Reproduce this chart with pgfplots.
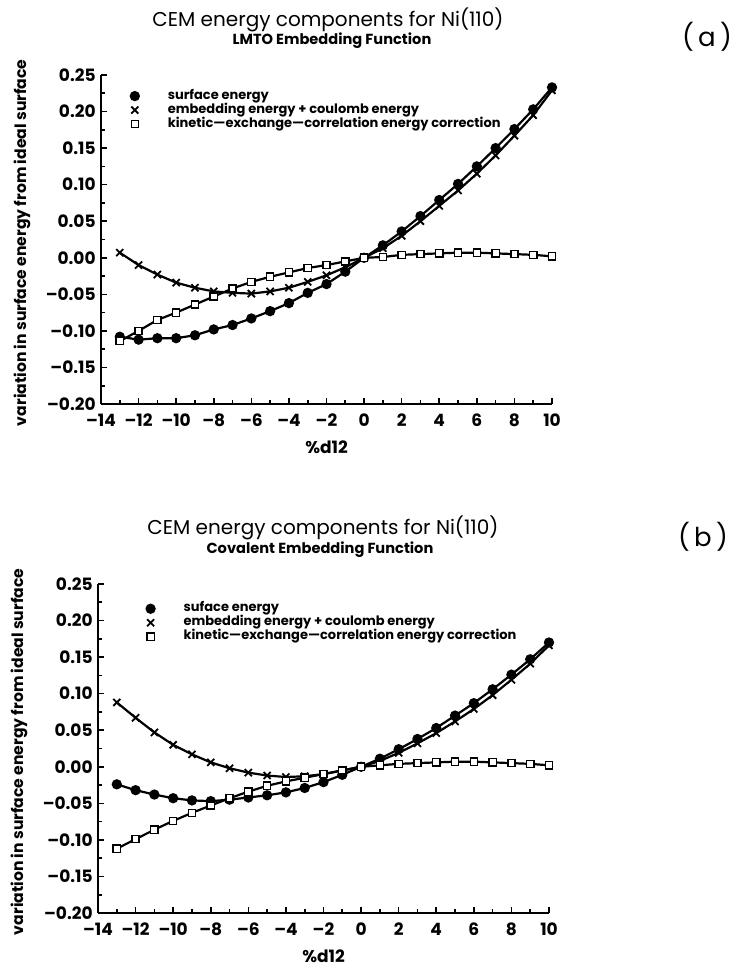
\documentclass[border=0pt]{standalone}
\usepackage{fontspec}
\setmainfont{Poppins}
\usepackage{pgfplots}
\usepackage{pgfplotstable}
\pgfplotsset{compat=1.18}

\pgfplotstableread{
x surf emb kec
-13 -0.108 0.007 -0.114
-12 -0.112 -0.010 -0.100
-11 -0.110 -0.023 -0.085
-10 -0.110 -0.034 -0.075
-9 -0.106 -0.041 -0.064
-8 -0.098 -0.046 -0.053
-7 -0.092 -0.048 -0.042
-6 -0.083 -0.049 -0.033
-5 -0.073 -0.046 -0.026
-4 -0.062 -0.041 -0.020
-3 -0.048 -0.033 -0.014
-2 -0.036 -0.024 -0.010
-1 -0.019 -0.013 -0.005
0 0.000 0.000 0.000
1 0.017 0.013 0.001
2 0.036 0.030 0.004
3 0.057 0.050 0.005
4 0.079 0.071 0.006
5 0.101 0.092 0.007
6 0.125 0.115 0.007
7 0.150 0.140 0.006
8 0.176 0.167 0.005
9 0.203 0.195 0.004
10 0.233 0.229 0.002
}\dataA

\pgfplotstableread{
x surf emb kec
-13 -0.024 0.088 -0.112
-12 -0.032 0.067 -0.099
-11 -0.038 0.047 -0.086
-10 -0.043 0.030 -0.074
-9 -0.046 0.017 -0.063
-8 -0.047 0.006 -0.053
-7 -0.045 -0.002 -0.043
-6 -0.042 -0.008 -0.034
-5 -0.039 -0.012 -0.026
-4 -0.035 -0.014 -0.020
-3 -0.029 -0.013 -0.015
-2 -0.021 -0.010 -0.010
-1 -0.011 -0.005 -0.005
0 0.000 0.000 0.000
1 0.011 0.008 0.002
2 0.024 0.019 0.004
3 0.038 0.032 0.005
4 0.053 0.046 0.006
5 0.070 0.062 0.007
6 0.087 0.079 0.007
7 0.106 0.098 0.006
8 0.126 0.119 0.005
9 0.147 0.141 0.004
10 0.170 0.166 0.002
}\dataB

\pgfplotsset{
  cem/.style={
    scale only axis, width=225.5pt, height=164.5pt,
    xmin=-14, xmax=10, ymin=-0.2, ymax=0.25,
    axis x line*=bottom, axis y line*=left,
    axis line style={line width=1pt, black},
    xtick={-14,-12,...,10},
    xticklabels={–14,–12,–10,–8,–6,–4,–2,0,2,4,6,8,10},
    ytick={-0.2,-0.15,-0.1,-0.05,0,0.05,0.1,0.15,0.2,0.25},
    yticklabels={–0.20,–0.15,–0.10,–0.05,0.00,0.05,0.10,0.15,0.20,0.25},
    minor x tick num=1, minor y tick num=1,
    tick align=inside,
    major tick length=3pt, minor tick length=1.75pt,
    every tick/.style={black, line width=0.8pt},
    ticklabel style={font=\bfseries\fontsize{8.5}{10}\selectfont, inner sep=0pt},
    xticklabel style={anchor=center, yshift=-8pt},
    yticklabel style={anchor=east, xshift=-2.5pt},
    xlabel={\%d12},
    xlabel style={font=\bfseries\fontsize{8.5}{10}\selectfont, at={(axis description cs:0.5,-0.13)}, anchor=center},
    ylabel={variation in surface energy from ideal surface},
    ylabel style={font=\bfseries\fontsize{7.8}{9}\selectfont, at={(axis description cs:-0.175,0.49)}, anchor=center, rotate=0},
    legend image code/.code={\path[draw=none,fill=none] (-3pt,0pt) -- (16.5pt,0pt); \draw[#1] plot[only marks] coordinates {(0pt,0pt)};},
    legend style={draw=none, fill=none, inner sep=0pt, outer sep=0pt,
      font=\bfseries\fontsize{6.5}{8}\selectfont,
      row sep=1pt,
      nodes={inner sep=0pt, text height=4.5pt, text depth=1.5pt, anchor=west}},
    legend cell align=left,
  },
  surf/.style={black, line width=1.1pt, mark=*, mark size=2pt, mark options={solid}},
  emb/.style={black, line width=1.1pt, mark=x, mark size=2.5pt, mark options={solid, line width=0.9pt}},
  kec/.style={black, line width=1.1pt, mark=square*, mark size=1.8pt, mark options={solid, fill=white, line width=0.7pt}},
}

\begin{document}
\begin{tikzpicture}
\path[use as bounding box] (0pt,0pt) rectangle (368pt,484.5pt);

% top panel
\node[font=\fontsize{10}{12}\selectfont] at (164pt,474.5pt) {CEM energy components for Ni(110)};
\node[font=\bfseries\fontsize{7.3}{9}\selectfont] at (166pt,464pt) {LMTO Embedding Function};
\node[font=\fontsize{13}{15}\selectfont] at (353.5pt,466pt) {(\,a\,)};

\begin{axis}[cem, at={(50.5pt,282.5pt)}, anchor=south west,
  legend style={at={(axis cs:-12.2,0.202)}, anchor=west, xshift=-3pt}]
\addplot[surf] table[x=x, y=surf] {\dataA};
\addplot[emb] table[x=x, y=emb] {\dataA};
\addplot[kec] table[x=x, y=kec] {\dataA};
\legend{surface energy, embedding energy + coulomb energy, kinetic---exchange---correlation energy correction}
\end{axis}

% bottom panel
\node[font=\fontsize{10}{12}\selectfont] at (161.5pt,220.5pt) {CEM energy components for Ni(110)};
\node[font=\bfseries\fontsize{7.3}{9}\selectfont] at (160pt,209.5pt) {Covalent Embedding Function};
\node[font=\fontsize{13}{15}\selectfont] at (351.5pt,216pt) {(\,b\,)};

\begin{axis}[cem, at={(49pt,28pt)}, anchor=south west,
  legend style={at={(axis cs:-11.2,0.197)}, anchor=west, xshift=-3pt}]
\addplot[surf] table[x=x, y=surf] {\dataB};
\addplot[emb] table[x=x, y=emb] {\dataB};
\addplot[kec] table[x=x, y=kec] {\dataB};
\legend{suface energy, embedding energy + coulomb energy, kinetic---exchange---correlation energy correction}
\end{axis}
\end{tikzpicture}
\end{document}
